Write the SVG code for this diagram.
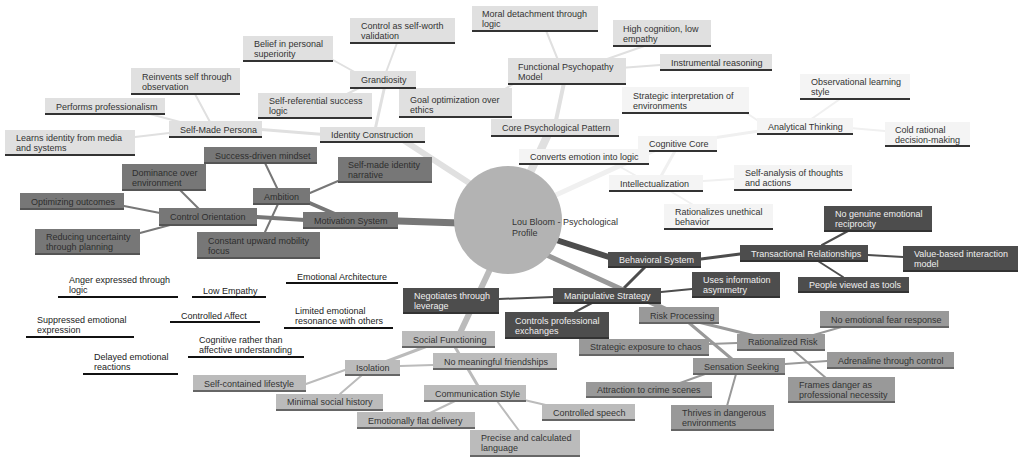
<svg xmlns="http://www.w3.org/2000/svg" width="1024" height="461" viewBox="0 0 1024 461">
<style>
text{font-family:"Liberation Sans",Arial,sans-serif;font-size:9px;fill:#333}
.core rect{fill:#e0e0e0}.core line{stroke:#333;stroke-width:2}
.cog rect{fill:#f4f4f4}.cog line{stroke:#333;stroke-width:2}
.mot rect{fill:#777}.mot line{stroke:#555;stroke-width:2}.mot text{fill:#2e2e2e}
.beh rect{fill:#4d4d4d}.beh line{stroke:#333;stroke-width:2}.beh text{fill:#f0f0f0}
.emo line{stroke:#111;stroke-width:2}.emo text{fill:#222}
.soc rect{fill:#bbb}.soc line{stroke:#666;stroke-width:2}
.risk rect{fill:#999}.risk line{stroke:#666;stroke-width:2}
#connectors line{stroke-linecap:round}
</style>
<g id="connectors">
<g stroke="#e0e0e0">
<line x1="508" y1="220" x2="550" y2="130" stroke-width="8"/>
<line x1="480" y1="190" x2="400" y2="138" stroke-width="6"/>
<line x1="555" y1="125" x2="565" y2="78" stroke-width="4"/>
<line x1="560" y1="65" x2="545" y2="28" stroke-width="2"/>
<line x1="590" y1="65" x2="650" y2="44" stroke-width="2"/>
<line x1="620" y1="68" x2="660" y2="65" stroke-width="2"/>
<line x1="520" y1="80" x2="495" y2="95" stroke-width="2"/>
<line x1="375" y1="130" x2="385" y2="85" stroke-width="3"/>
<line x1="330" y1="135" x2="255" y2="129" stroke-width="3"/>
<line x1="385" y1="75" x2="397" y2="43" stroke-width="2"/>
<line x1="360" y1="75" x2="333" y2="60" stroke-width="2"/>
<line x1="365" y1="85" x2="345" y2="95" stroke-width="2"/>
<line x1="210" y1="122" x2="195" y2="94" stroke-width="2"/>
<line x1="180" y1="122" x2="150" y2="114" stroke-width="2"/>
<line x1="169" y1="133" x2="135" y2="137" stroke-width="2"/>
</g>
<g stroke="#f0f0f0">
<line x1="545" y1="200" x2="665" y2="145" stroke-width="5"/>
<line x1="700" y1="140" x2="765" y2="130" stroke-width="3"/>
<line x1="675" y1="151" x2="660" y2="178" stroke-width="3"/>
<line x1="760" y1="122" x2="745" y2="112" stroke-width="2"/>
<line x1="810" y1="120" x2="840" y2="99" stroke-width="2"/>
<line x1="850" y1="128" x2="885" y2="131" stroke-width="2"/>
<line x1="615" y1="164" x2="640" y2="178" stroke-width="2"/>
<line x1="703" y1="181" x2="734" y2="179" stroke-width="2"/>
<line x1="670" y1="191" x2="695" y2="206" stroke-width="2"/>
</g>
<g stroke="#777">
<line x1="398" y1="221" x2="460" y2="223" stroke-width="7"/>
<line x1="305" y1="201" x2="335" y2="214" stroke-width="4"/>
<line x1="257" y1="217" x2="305" y2="220" stroke-width="4"/>
<line x1="278" y1="190" x2="265" y2="163" stroke-width="2"/>
<line x1="310" y1="193" x2="338" y2="181" stroke-width="2"/>
<line x1="278" y1="204" x2="265" y2="232" stroke-width="2"/>
<line x1="200" y1="210" x2="180" y2="190" stroke-width="2"/>
<line x1="160" y1="213" x2="124" y2="206" stroke-width="2"/>
<line x1="170" y1="225" x2="140" y2="233" stroke-width="2"/>
</g>
<g stroke="#4d4d4d">
<line x1="550" y1="238" x2="612" y2="258" stroke-width="6"/>
<line x1="701" y1="259" x2="740" y2="254" stroke-width="3"/>
<line x1="645" y1="267" x2="622" y2="290" stroke-width="3"/>
<line x1="822" y1="245" x2="848" y2="231" stroke-width="2"/>
<line x1="868" y1="255" x2="903" y2="257" stroke-width="2"/>
<line x1="818" y1="261" x2="843" y2="277" stroke-width="2"/>
<line x1="661" y1="292" x2="692" y2="289" stroke-width="2"/>
<line x1="592" y1="303" x2="575" y2="312" stroke-width="2"/>
<line x1="553" y1="297" x2="499" y2="299" stroke-width="2"/>
</g>
<g stroke="#bbb">
<line x1="492" y1="265" x2="460" y2="333" stroke-width="6"/>
<line x1="430" y1="345" x2="385" y2="362" stroke-width="3"/>
<line x1="455" y1="347" x2="478" y2="386" stroke-width="3"/>
<line x1="400" y1="366" x2="433" y2="365" stroke-width="2"/>
<line x1="306" y1="384" x2="345" y2="370" stroke-width="2"/>
<line x1="340" y1="394" x2="362" y2="375" stroke-width="2"/>
<line x1="430" y1="413" x2="455" y2="401" stroke-width="2"/>
<line x1="520" y1="399" x2="550" y2="406" stroke-width="2"/>
<line x1="497" y1="401" x2="520" y2="432" stroke-width="2"/>
</g>
<g stroke="#999">
<line x1="540" y1="252" x2="665" y2="309" stroke-width="5"/>
<line x1="690" y1="320" x2="755" y2="336" stroke-width="3"/>
<line x1="688" y1="322" x2="733" y2="360" stroke-width="3"/>
<line x1="810" y1="336" x2="845" y2="326" stroke-width="2"/>
<line x1="709" y1="344" x2="737" y2="343" stroke-width="2"/>
<line x1="793" y1="350" x2="826" y2="378" stroke-width="2"/>
<line x1="785" y1="364" x2="827" y2="361" stroke-width="2"/>
<line x1="705" y1="374" x2="680" y2="383" stroke-width="2"/>
<line x1="736" y1="374" x2="727" y2="406" stroke-width="2"/>
</g>
</g>
<g id="root"><circle cx="508" cy="220" r="54" fill="#b3b3b3"/><text x="512" y="225">Lou Bloom - Psychological</text><text x="512" y="236">Profile</text></g>
<g class="core">
<g id="n-cpp"><rect x="491" y="119" width="128" height="17"/><line x1="491" y1="136" x2="619" y2="136"/><text x="502" y="131">Core Psychological Pattern</text></g>
<g id="n-ic"><rect x="320" y="127" width="105" height="15"/><line x1="320" y1="142" x2="425" y2="142"/><text x="331" y="138">Identity Construction</text></g>
<g id="n-fpm"><rect x="508" y="58" width="118" height="26"/><line x1="508" y1="84" x2="626" y2="84"/><text x="518" y="70">Functional Psychopathy</text><text x="518" y="80">Model</text></g>
<g id="n-md"><rect x="472" y="6" width="126" height="25"/><line x1="472" y1="31" x2="598" y2="31"/><text x="482" y="17">Moral detachment through</text><text x="482" y="27">logic</text></g>
<g id="n-hc"><rect x="613" y="20" width="98" height="26"/><line x1="613" y1="46" x2="711" y2="46"/><text x="623" y="32">High cognition, low</text><text x="623" y="42">empathy</text></g>
<g id="n-ir"><rect x="660" y="54" width="112" height="16"/><line x1="660" y1="70" x2="772" y2="70"/><text x="671" y="66">Instrumental reasoning</text></g>
<g id="n-go"><rect x="399" y="88" width="113" height="29"/><line x1="399" y1="117" x2="512" y2="117"/><text x="410" y="103">Goal optimization over</text><text x="410" y="113">ethics</text></g>
<g id="n-gr"><rect x="350" y="71" width="66" height="17"/><line x1="350" y1="88" x2="416" y2="88"/><text x="361" y="83">Grandiosity</text></g>
<g id="n-cs"><rect x="350" y="18" width="105" height="25"/><line x1="350" y1="43" x2="455" y2="43"/><text x="361" y="29">Control as self-worth</text><text x="361" y="39">validation</text></g>
<g id="n-bp"><rect x="243" y="36" width="90" height="25"/><line x1="243" y1="61" x2="333" y2="61"/><text x="254" y="47">Belief in personal</text><text x="254" y="57">superiority</text></g>
<g id="n-sr"><rect x="258" y="93" width="114" height="25"/><line x1="258" y1="118" x2="372" y2="118"/><text x="269" y="104">Self-referential success</text><text x="269" y="114">logic</text></g>
<g id="n-smp"><rect x="169" y="121" width="93" height="16"/><line x1="169" y1="137" x2="262" y2="137"/><text x="180" y="133">Self-Made Persona</text></g>
<g id="n-rs"><rect x="131" y="68" width="109" height="26"/><line x1="131" y1="94" x2="240" y2="94"/><text x="142" y="80">Reinvents self through</text><text x="142" y="90">observation</text></g>
<g id="n-pp"><rect x="45" y="98" width="120" height="16"/><line x1="45" y1="114" x2="165" y2="114"/><text x="56" y="110">Performs professionalism</text></g>
<g id="n-li"><rect x="5" y="130" width="130" height="25"/><line x1="5" y1="155" x2="135" y2="155"/><text x="16" y="141">Learns identity from media</text><text x="16" y="151">and systems</text></g>
</g>
<g class="cog">
<g id="n-cc"><rect x="638" y="136" width="79" height="15"/><line x1="638" y1="151" x2="717" y2="151"/><text x="649" y="147">Cognitive Core</text></g>
<g id="n-at"><rect x="757" y="118" width="96" height="16"/><line x1="757" y1="134" x2="853" y2="134"/><text x="768" y="130">Analytical Thinking</text></g>
<g id="n-ol"><rect x="800" y="74" width="110" height="25"/><line x1="800" y1="99" x2="910" y2="99"/><text x="811" y="85">Observational learning</text><text x="811" y="95">style</text></g>
<g id="n-cr"><rect x="885" y="122" width="85" height="24"/><line x1="885" y1="146" x2="970" y2="146"/><text x="895" y="133">Cold rational</text><text x="895" y="143">decision-making</text></g>
<g id="n-si"><rect x="622" y="87" width="127" height="26"/><line x1="622" y1="113" x2="749" y2="113"/><text x="633" y="99">Strategic interpretation of</text><text x="633" y="109">environments</text></g>
<g id="n-ce"><rect x="519" y="149" width="130" height="15"/><line x1="519" y1="164" x2="649" y2="164"/><text x="530" y="160">Converts emotion into logic</text></g>
<g id="n-in"><rect x="609" y="175" width="94" height="16"/><line x1="609" y1="191" x2="703" y2="191"/><text x="620" y="187">Intellectualization</text></g>
<g id="n-sa"><rect x="734" y="165" width="118" height="25"/><line x1="734" y1="190" x2="852" y2="190"/><text x="745" y="176">Self-analysis of thoughts</text><text x="745" y="186">and actions</text></g>
<g id="n-ru"><rect x="664" y="204" width="109" height="25"/><line x1="664" y1="229" x2="773" y2="229"/><text x="675" y="215">Rationalizes unethical</text><text x="675" y="225">behavior</text></g>
</g>
<g class="mot">
<g id="n-ms"><rect x="303" y="212" width="95" height="16"/><line x1="303" y1="228" x2="398" y2="228"/><text x="314" y="224">Motivation System</text></g>
<g id="n-am"><rect x="253" y="188" width="57" height="16"/><line x1="253" y1="204" x2="310" y2="204"/><text x="264" y="200">Ambition</text></g>
<g id="n-co"><rect x="159" y="208" width="98" height="17"/><line x1="159" y1="225" x2="257" y2="225"/><text x="170" y="220">Control Orientation</text></g>
<g id="n-sd"><rect x="204" y="147" width="113" height="16"/><line x1="204" y1="163" x2="317" y2="163"/><text x="215" y="159">Success-driven mindset</text></g>
<g id="n-sm"><rect x="338" y="157" width="94" height="25"/><line x1="338" y1="182" x2="432" y2="182"/><text x="348" y="168">Self-made identity</text><text x="348" y="178">narrative</text></g>
<g id="n-de"><rect x="122" y="164" width="84" height="26"/><line x1="122" y1="190" x2="206" y2="190"/><text x="132" y="176">Dominance over</text><text x="132" y="186">environment</text></g>
<g id="n-oo"><rect x="20" y="193" width="104" height="16"/><line x1="20" y1="209" x2="124" y2="209"/><text x="31" y="205">Optimizing outcomes</text></g>
<g id="n-ru2"><rect x="35" y="229" width="105" height="25"/><line x1="35" y1="254" x2="140" y2="254"/><text x="46" y="240">Reducing uncertainty</text><text x="46" y="250">through planning</text></g>
<g id="n-cu"><rect x="197" y="232" width="123" height="26"/><line x1="197" y1="258" x2="320" y2="258"/><text x="208" y="244">Constant upward mobility</text><text x="208" y="254">focus</text></g>
</g>
<g class="emo">
<g id="n-ea"><line x1="286" y1="283" x2="398" y2="283"/><text x="297" y="280">Emotional Architecture</text></g>
<g id="n-le"><line x1="192" y1="297" x2="266" y2="297"/><text x="203" y="294">Low Empathy</text></g>
<g id="n-ae"><line x1="58" y1="297" x2="178" y2="297"/><text x="69" y="283">Anger expressed through</text><text x="69" y="293">logic</text></g>
<g id="n-ca"><line x1="170" y1="322" x2="260" y2="322"/><text x="181" y="319">Controlled Affect</text></g>
<g id="n-lr"><line x1="284" y1="328" x2="393" y2="328"/><text x="295" y="314">Limited emotional</text><text x="295" y="324">resonance with others</text></g>
<g id="n-se"><line x1="26" y1="337" x2="134" y2="337"/><text x="37" y="323">Suppressed emotional</text><text x="37" y="333">expression</text></g>
<g id="n-cra"><line x1="188" y1="357" x2="304" y2="357"/><text x="199" y="343">Cognitive rather than</text><text x="199" y="353">affective understanding</text></g>
<g id="n-der"><line x1="83" y1="374" x2="178" y2="374"/><text x="94" y="360">Delayed emotional</text><text x="94" y="370">reactions</text></g>
</g>
<g class="beh">
<g id="n-bs"><rect x="608" y="252" width="93" height="15"/><line x1="608" y1="267" x2="701" y2="267"/><text x="619" y="263">Behavioral System</text></g>
<g id="n-tr"><rect x="740" y="245" width="128" height="16"/><line x1="740" y1="261" x2="868" y2="261"/><text x="751" y="257">Transactional Relationships</text></g>
<g id="n-ng"><rect x="824" y="206" width="108" height="25"/><line x1="824" y1="231" x2="932" y2="231"/><text x="835" y="217">No genuine emotional</text><text x="835" y="227">reciprocity</text></g>
<g id="n-vb"><rect x="903" y="246" width="115" height="25"/><line x1="903" y1="271" x2="1018" y2="271"/><text x="914" y="257">Value-based interaction</text><text x="914" y="267">model</text></g>
<g id="n-pv"><rect x="798" y="277" width="111" height="15"/><line x1="798" y1="292" x2="909" y2="292"/><text x="809" y="288">People viewed as tools</text></g>
<g id="n-mst"><rect x="553" y="288" width="108" height="15"/><line x1="553" y1="303" x2="661" y2="303"/><text x="564" y="299">Manipulative Strategy</text></g>
<g id="n-ui"><rect x="692" y="272" width="88" height="25"/><line x1="692" y1="297" x2="780" y2="297"/><text x="703" y="283">Uses information</text><text x="703" y="293">asymmetry</text></g>
<g id="n-cpe"><rect x="505" y="312" width="104" height="26"/><line x1="505" y1="338" x2="609" y2="338"/><text x="515" y="324">Controls professional</text><text x="515" y="334">exchanges</text></g>
<g id="n-nl"><rect x="403" y="288" width="96" height="25"/><line x1="403" y1="313" x2="499" y2="313"/><text x="414" y="299">Negotiates through</text><text x="414" y="309">leverage</text></g>
</g>
<g class="soc">
<g id="n-sf"><rect x="402" y="331" width="93" height="16"/><line x1="402" y1="347" x2="495" y2="347"/><text x="413" y="343">Social Functioning</text></g>
<g id="n-is"><rect x="345" y="360" width="55" height="15"/><line x1="345" y1="375" x2="400" y2="375"/><text x="356" y="371">Isolation</text></g>
<g id="n-nm"><rect x="433" y="353" width="124" height="16"/><line x1="433" y1="369" x2="557" y2="369"/><text x="444" y="365">No meaningful friendships</text></g>
<g id="n-sc"><rect x="193" y="375" width="113" height="16"/><line x1="193" y1="391" x2="306" y2="391"/><text x="204" y="387">Self-contained lifestyle</text></g>
<g id="n-msh"><rect x="276" y="394" width="107" height="16"/><line x1="276" y1="410" x2="383" y2="410"/><text x="287" y="405">Minimal social history</text></g>
<g id="n-cst"><rect x="424" y="385" width="102" height="16"/><line x1="424" y1="401" x2="526" y2="401"/><text x="435" y="397">Communication Style</text></g>
<g id="n-ef"><rect x="357" y="412" width="118" height="16"/><line x1="357" y1="428" x2="475" y2="428"/><text x="368" y="424">Emotionally flat delivery</text></g>
<g id="n-csp"><rect x="542" y="404" width="93" height="16"/><line x1="542" y1="420" x2="635" y2="420"/><text x="553" y="416">Controlled speech</text></g>
<g id="n-pc"><rect x="470" y="430" width="110" height="26"/><line x1="470" y1="456" x2="580" y2="456"/><text x="481" y="441">Precise and calculated</text><text x="481" y="451">language</text></g>
</g>
<g class="risk">
<g id="n-rp"><rect x="639" y="307" width="80" height="16"/><line x1="639" y1="323" x2="719" y2="323"/><text x="650" y="319">Risk Processing</text></g>
<g id="n-rr"><rect x="737" y="334" width="88" height="16"/><line x1="737" y1="350" x2="825" y2="350"/><text x="748" y="345">Rationalized Risk</text></g>
<g id="n-nf"><rect x="820" y="311" width="129" height="16"/><line x1="820" y1="327" x2="949" y2="327"/><text x="831" y="323">No emotional fear response</text></g>
<g id="n-sx"><rect x="579" y="339" width="130" height="16"/><line x1="579" y1="355" x2="709" y2="355"/><text x="590" y="350">Strategic exposure to chaos</text></g>
<g id="n-ss"><rect x="693" y="358" width="92" height="16"/><line x1="693" y1="374" x2="785" y2="374"/><text x="704" y="370">Sensation Seeking</text></g>
<g id="n-ad"><rect x="827" y="352" width="127" height="16"/><line x1="827" y1="368" x2="954" y2="368"/><text x="838" y="364">Adrenaline through control</text></g>
<g id="n-fd"><rect x="788" y="377" width="107" height="25"/><line x1="788" y1="402" x2="895" y2="402"/><text x="799" y="388">Frames danger as</text><text x="799" y="398">professional necessity</text></g>
<g id="n-ac"><rect x="586" y="382" width="126" height="15"/><line x1="586" y1="397" x2="712" y2="397"/><text x="597" y="393">Attraction to crime scenes</text></g>
<g id="n-td"><rect x="671" y="405" width="103" height="25"/><line x1="671" y1="430" x2="774" y2="430"/><text x="682" y="416">Thrives in dangerous</text><text x="682" y="426">environments</text></g>
</g>
</svg>
